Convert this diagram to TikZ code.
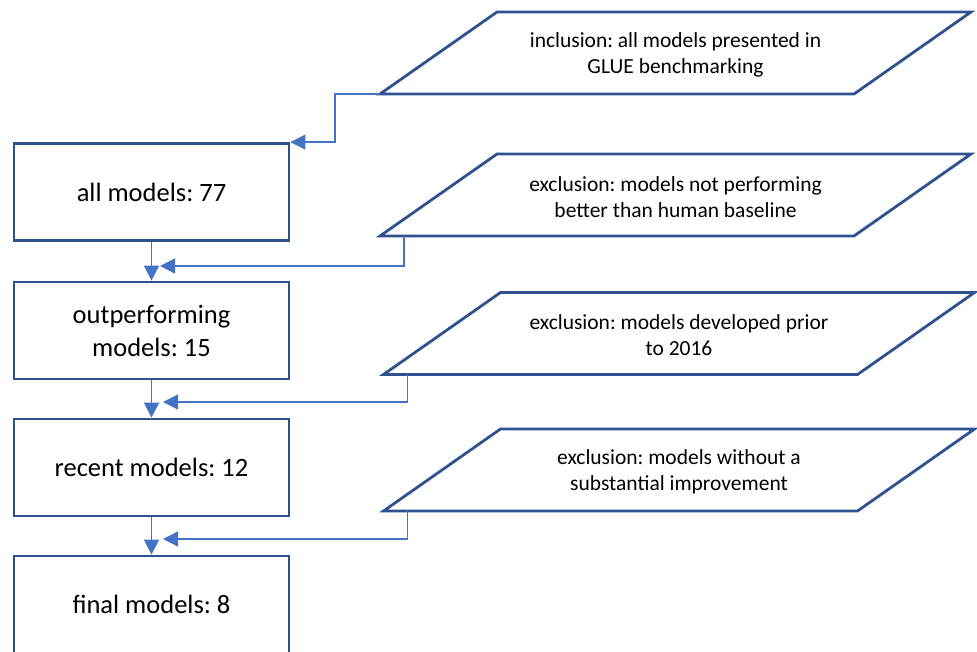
\documentclass[tikz,border=0pt]{standalone}
\usepackage{fontspec}
\setmainfont{Carlito}
\usetikzlibrary{arrows.meta,calc}
\definecolor{boxblue}{HTML}{2F528F}
\definecolor{linkblue}{HTML}{4472C4}
\frenchspacing
\begin{document}
\begin{tikzpicture}[x=1pt,y=-1pt,
  stage/.style={draw=boxblue, line width=2.8pt, fill=white,
    minimum width=275pt, minimum height=97pt, inner sep=0pt,
    align=center, font=\fontsize{26.5}{33}\selectfont},
  criterion/.style={inner sep=0pt, align=center,
    font=\fontsize{21.5}{26}\selectfont},
  outline/.style={draw=boxblue, line width=2.8pt, line join=miter},
  link/.style={draw=linkblue, line width=1.3pt,
    -{Triangle[length=15pt,width=15pt]}},
]
\useasboundingbox (0,0) rectangle (977,651);

% stages of the selection
\node[stage] (b1) at (151.5,192) {all models: 77};
\node[stage] (b2) at (151.5,330.5) {outperforming\\models: 15};
\node[stage] (b3) at (151.5,467.5) {recent models: 12};
\node[stage] (b4) at (151.5,604.5) {final models: 8};

% selection criteria: parallelograms centred on named points
\coordinate (p1) at (675.5,53);
\coordinate (p2) at (675.5,195);
\coordinate (p3) at (679,333.5);
\coordinate (p4) at (679,470);
\foreach \n in {p1,p2,p3,p4} {
  \draw[outline] ($(\n)+(-295.5,41)$) -- ($(\n)+(-178.5,-41)$)
    -- ($(\n)+(295.5,-41)$) -- ($(\n)+(178.5,41)$) -- cycle;
  \coordinate (\n-corner) at ($(\n)+(-295.5,41)$);
}
\node[criterion] (t1) at ($(p1)+(0,2)$) {inclusion: all models presented in\\GLUE benchmarking};
\node[criterion] (t2) at ($(p2)+(0,2)$) {exclusion: models not performing\\better than human baseline};
\node[criterion] (t3) at ($(p3)+(0,2)$) {exclusion: models developed prior\\to 2016};
\node[criterion] (t4) at ($(p4)+(0,2)$) {exclusion: models without a\\substantial improvement};

% flow between stages
\draw[link] (b1.south) -- (b2.north);
\draw[link] (b2.south) -- (b3.north);
\draw[link] (b3.south) -- (b4.north);

% criteria feeding into the flow
\coordinate (j1) at (160,266);
\coordinate (j2) at (163,402);
\coordinate (j3) at (163,539);
\draw[link] (p1-corner) -- ++(-45,0) |- (b1.north east);
\draw[link] ($(p2-corner)+(24,0)$) |- (j1);
\draw[link] ($(p3-corner)+(24,0)$) |- (j2);
\draw[link] ($(p4-corner)+(24,0)$) |- (j3);
\end{tikzpicture}
\end{document}
